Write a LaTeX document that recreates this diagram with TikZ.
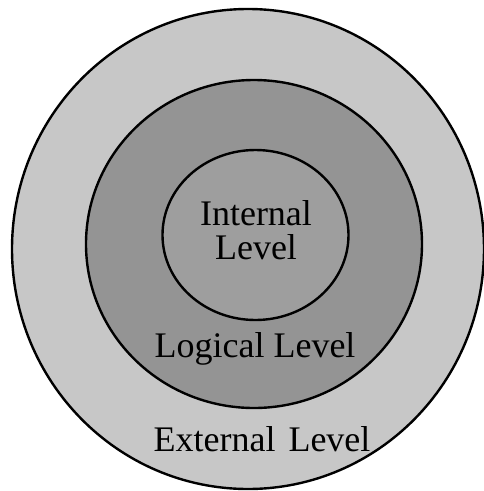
\documentclass[tikz,border=0pt]{standalone}
\usepackage{fontspec}
\setmainfont{Liberation Serif}
\usetikzlibrary{shapes.geometric}
\begin{document}
\begin{tikzpicture}[x=1pt,y=-1pt,
  ring/.style={ellipse, draw=black, line width=2.4pt, inner sep=0pt},
  lbl/.style={font=\fontsize{36}{36}\selectfont, anchor=base, inner sep=0pt, text=black}]
\useasboundingbox (0,0) rectangle (484,491);
\fill[white] (0,0) rectangle (484,491);
\node[ring, fill=black!22, minimum width=472pt, minimum height=480pt] (ext) at (248,249) {};
\node[ring, fill=black!42, minimum width=336pt, minimum height=328pt] (log) at (254,244) {};
\node[ring, fill=black!38, minimum width=186pt, minimum height=170pt] (int) at (255.5,235) {};
\node[lbl] (t1) at (256,225) {Internal};
\node[lbl] (t2) at (256,259) {Level};
\node[lbl] (t3) at (255,357) {Logical Level};
\node[lbl] (t4) at (262,451) {External\hspace{4pt} Level};
\end{tikzpicture}
\end{document}
